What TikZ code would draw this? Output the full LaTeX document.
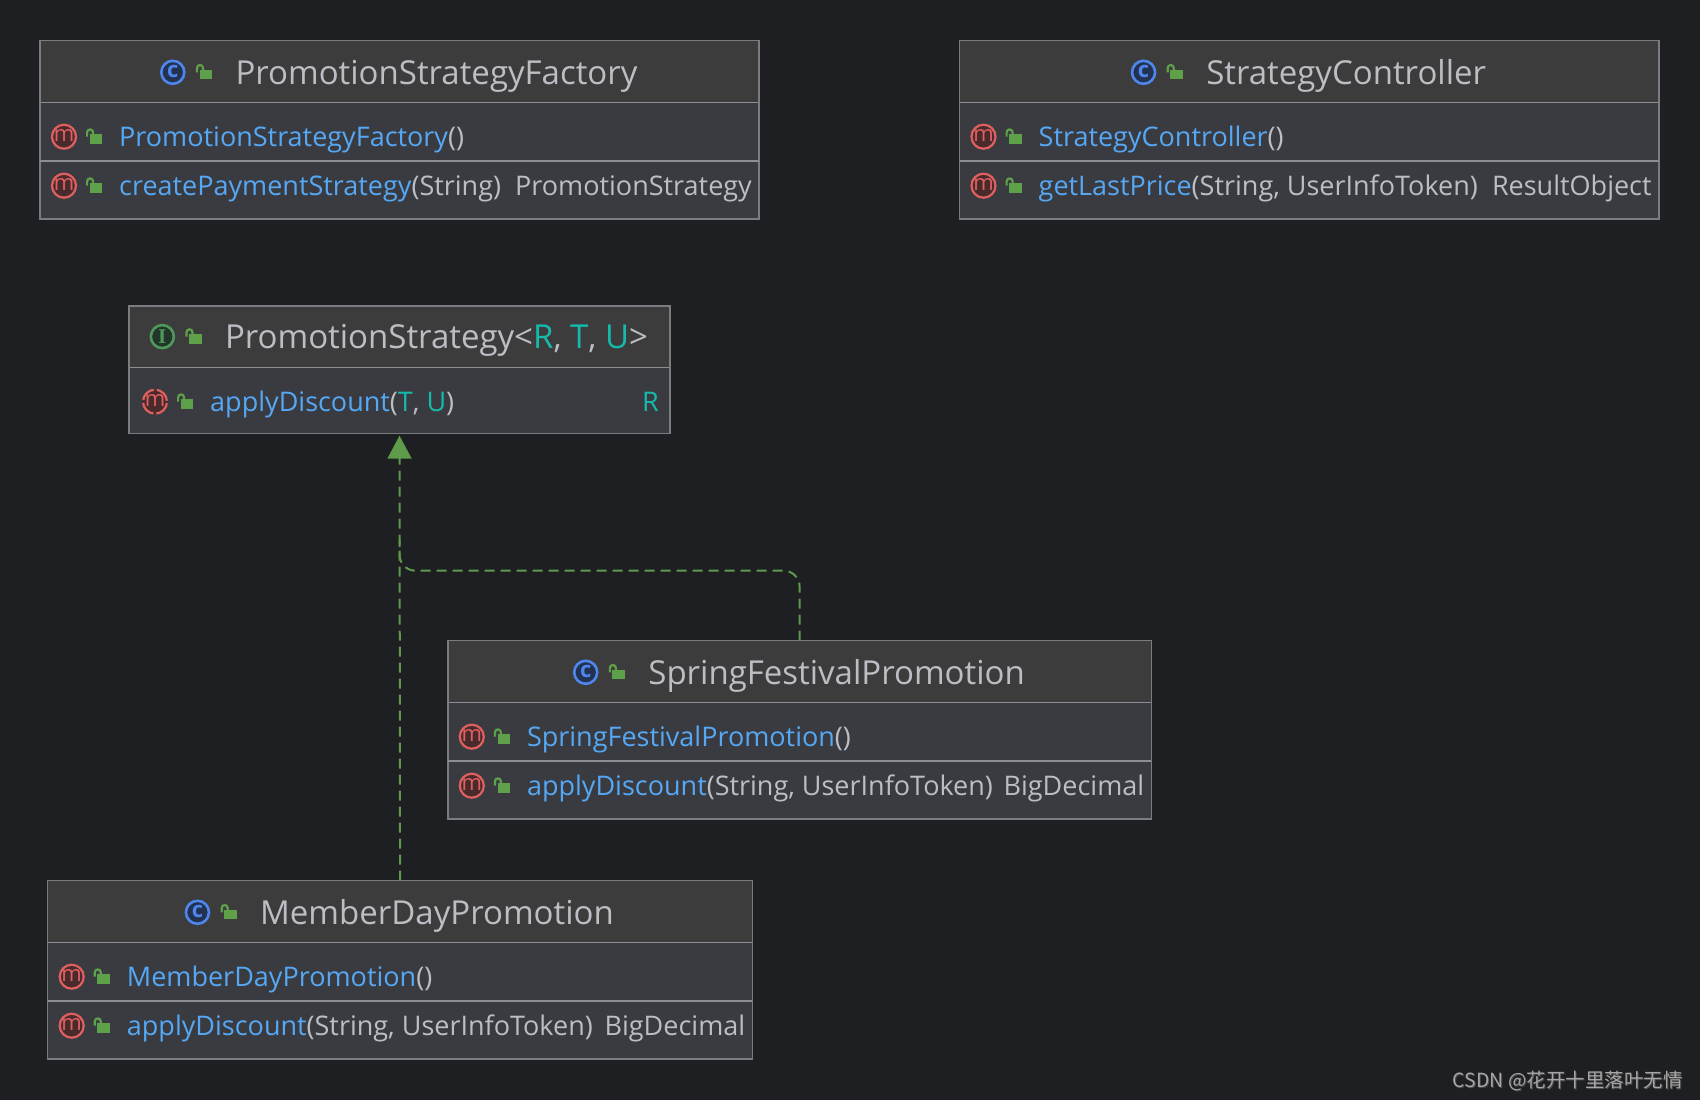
\documentclass[tikz,border=0pt]{standalone}
\usepackage{fontspec}
\setmainfont{Open Sans}
\newfontfamily\cjkfont{Noto Sans CJK SC}
\newfontfamily\serifI{Liberation Serif}
\usetikzlibrary{calc,arrows.meta}
\definecolor{bg}{HTML}{1E1F22}
\definecolor{headfill}{HTML}{3C3C3D}
\definecolor{rowfill}{HTML}{393B40}
\definecolor{frame}{HTML}{7A7C80}
\definecolor{divider}{HTML}{8C8E92}
\definecolor{txt}{HTML}{BCBEC4}
\definecolor{mblue}{HTML}{56A8F5}
\definecolor{teal}{HTML}{16BAAC}
\definecolor{dashgreen}{HTML}{5E9B4B}
\definecolor{lockgreen}{HTML}{5FA04A}
\definecolor{mred}{HTML}{E06060}
\definecolor{mfill}{HTML}{4A2B2D}
\definecolor{cblue}{HTML}{4F86EC}
\definecolor{cfill}{HTML}{233250}
\definecolor{igreen}{HTML}{4E9A5A}
\definecolor{ifill}{HTML}{22352A}
\definecolor{wm}{HTML}{A6A6A6}
\newcommand\mn[1]{\textcolor{mblue}{#1}}
\newcommand\tp[1]{\textcolor{teal}{#1}}
\tikzset{
  boxframe/.style={draw=frame, line width=1.4pt, inner sep=0pt, outer sep=0pt, anchor=north west},
  divline/.style={draw=divider, line width=1.6pt},
  titletext/.style={text=txt, font=\fontsize{33}{39}\selectfont, anchor=base, inner sep=0pt},
  member/.style={text=txt, font=\fontsize{27}{32}\selectfont, anchor=base west, inner sep=0pt},
  rettype/.style={text=txt, font=\fontsize{27}{32}\selectfont, anchor=base east, inner sep=0pt},
  realize/.style={draw=dashgreen, line width=2pt, dash pattern=on 10pt off 6pt, rounded corners=16pt},
  mic/.pic={
    \draw[draw=mred, fill=mfill, line width=2.2pt] (0,0) circle[radius=12];
    \node[text=mred, font=\fontsize{22}{22}\selectfont, inner sep=0pt] at (0,-1) {m};
  },
  amic/.pic={
    \draw[draw=mred, fill=mfill, line width=2.2pt, dash pattern=on 15.85pt off 3pt, dash phase=17.35pt] (0,0) circle[radius=12];
    \node[text=mred, font=\fontsize{22}{22}\selectfont, inner sep=0pt] at (0,-1) {m};
  },
  cic/.pic={
    \draw[draw=cblue, fill=cfill, line width=2.6pt] (0,0) circle[radius=11.5];
    \node[text=cblue, font=\bfseries\fontsize{22}{22}\selectfont, inner sep=0pt] at (0,-1) {c};
  },
  iic/.pic={
    \draw[draw=igreen, fill=ifill, line width=2.6pt] (0,0) circle[radius=11.5];
    \node[text=igreen, font=\serifI\bfseries\fontsize{21}{21}\selectfont, inner sep=0pt] at (0,0) {I};
  },
  lockic/.pic={
    \fill[lockgreen] (0,0) rectangle (12.6,-9.3);
    \draw[lockgreen, line width=2.2pt] (-2.6,-7) -- (-2.6,-11.3) arc[start angle=180, end angle=360, radius=3] -- (3.4,-9);
  },
}
% #1 name, #2 left, #3 top, #4 right, #5 bottom, #6 header divider y
\newcommand\classframe[6]{%
  \fill[rowfill] (#2,#3) rectangle (#4,#5);
  \fill[headfill] (#2,#3) rectangle (#4,#6);
  \draw[divline] (#2,#6) -- (#4,#6);
  \node[boxframe, minimum width={#4-#2}, minimum height={#5-#3}] (#1) at (#2,#3) {};
}
% #1 node name, #2 center x, #3 baseline, #4 icon pic, #5 text
\newcommand\classtitle[5]{%
  \node[titletext] (#1) at (#2+37,#3) {#5};
  \pic at ($(#1.base west)+(-62.5,-11.7)$) {#4};
  \pic at ($(#1.base west)+(-35.7,-4.7)$) {lockic};
}
% #1 node name, #2 text x, #3 baseline, #4 icon, #5 text
\newcommand\memberrow[5]{%
  \node[member] (#1) at (#2,#3) {#5};
  \pic at ($(#1.base west)+(-55,-10)$) {#4};
  \pic at ($(#1.base west)+(-29.3,-3)$) {lockic};
}
\begin{document}
\begin{tikzpicture}[x=1pt,y=-1pt]
\useasboundingbox (0,0) rectangle (1700,1100);
\fill[bg] (0,0) rectangle (1700,1100);

% PromotionStrategyFactory
\classframe{psf}{40}{40.7}{759}{219}{102.3}
\draw[divline] (40,160.7) -- (759,160.7);
\classtitle{psft}{399.5}{84}{cic}{PromotionStrategyFactory}
\memberrow{psfm1}{119}{146.7}{mic}{\mn{PromotionStrategyFactory}()}
\memberrow{psfm2}{119}{195.7}{mic}{\mn{createPaymentStrategy}(String)}
\node[rettype] (psfr2) at (752,195.7) {PromotionStrategy};

% StrategyController
\classframe{sc}{959.5}{40.7}{1658.8}{219}{102.3}
\draw[divline] (959.5,160.7) -- (1658.8,160.7);
\classtitle{sct}{1309.2}{84}{cic}{StrategyController}
\memberrow{scm1}{1038.5}{146.7}{mic}{\mn{StrategyController}()}
\memberrow{scm2}{1038.5}{195.7}{mic}{\mn{getLastPrice}(String, UserInfoToken)}
\node[rettype] (scr2) at (1651.8,195.7) {ResultObject};

% PromotionStrategy
\classframe{ps}{129}{306}{670}{433.7}{367.3}
\classtitle{pst}{399.5}{348.3}{iic}{PromotionStrategy<\tp{R}, \tp{T}, \tp{U}>}
\memberrow{psm1}{210}{411.7}{amic}{\mn{applyDiscount}(\tp{T}, \tp{U})}
\node[rettype, text=teal] (psr1) at (659,411.7) {R};

% SpringFestivalPromotion
\classframe{sfp}{447.8}{640.7}{1151.4}{819}{702.3}
\draw[divline] (447.8,760.7) -- (1151.4,760.7);
\classtitle{sfpt}{799.6}{684}{cic}{SpringFestivalPromotion}
\memberrow{sfpm1}{526.8}{746.7}{mic}{\mn{SpringFestivalPromotion}()}
\memberrow{sfpm2}{526.8}{795.7}{mic}{\mn{applyDiscount}(String, UserInfoToken)}
\node[rettype] (sfpr2) at (1144.4,795.7) {BigDecimal};

% MemberDayPromotion
\classframe{mdp}{47.7}{880.7}{752.4}{1059}{942.3}
\draw[divline] (47.7,1000.7) -- (752.4,1000.7);
\classtitle{mdpt}{400}{924}{cic}{MemberDayPromotion}
\memberrow{mdpm1}{126.7}{986.7}{mic}{\mn{MemberDayPromotion}()}
\memberrow{mdpm2}{126.7}{1035.7}{mic}{\mn{applyDiscount}(String, UserInfoToken)}
\node[rettype] (mdpr2) at (745.4,1035.7) {BigDecimal};

% realization connectors
\coordinate (bend) at (0,570.7);
\coordinate (joinpt) at (0,540);
\draw[realize, -{Triangle[width=24pt,length=23pt]}, shorten >=2pt] (mdp.north) -- (ps.south);
\draw[realize] (sfp.north) -- (sfp.north |- bend) -- (ps.south |- bend) -- (ps.south |- joinpt);

% watermark
\node[anchor=east, text=black!70, font=\cjkfont\fontsize{19.5}{22}\selectfont, inner sep=0pt] (wmshadow) at (1684,1082) {CSDN @花开十里落叶无情};
\node[anchor=east, text=wm, font=\cjkfont\fontsize{19.5}{22}\selectfont, inner sep=0pt] (wmtext) at (1683,1081) {CSDN @花开十里落叶无情};
\end{tikzpicture}
\end{document}
